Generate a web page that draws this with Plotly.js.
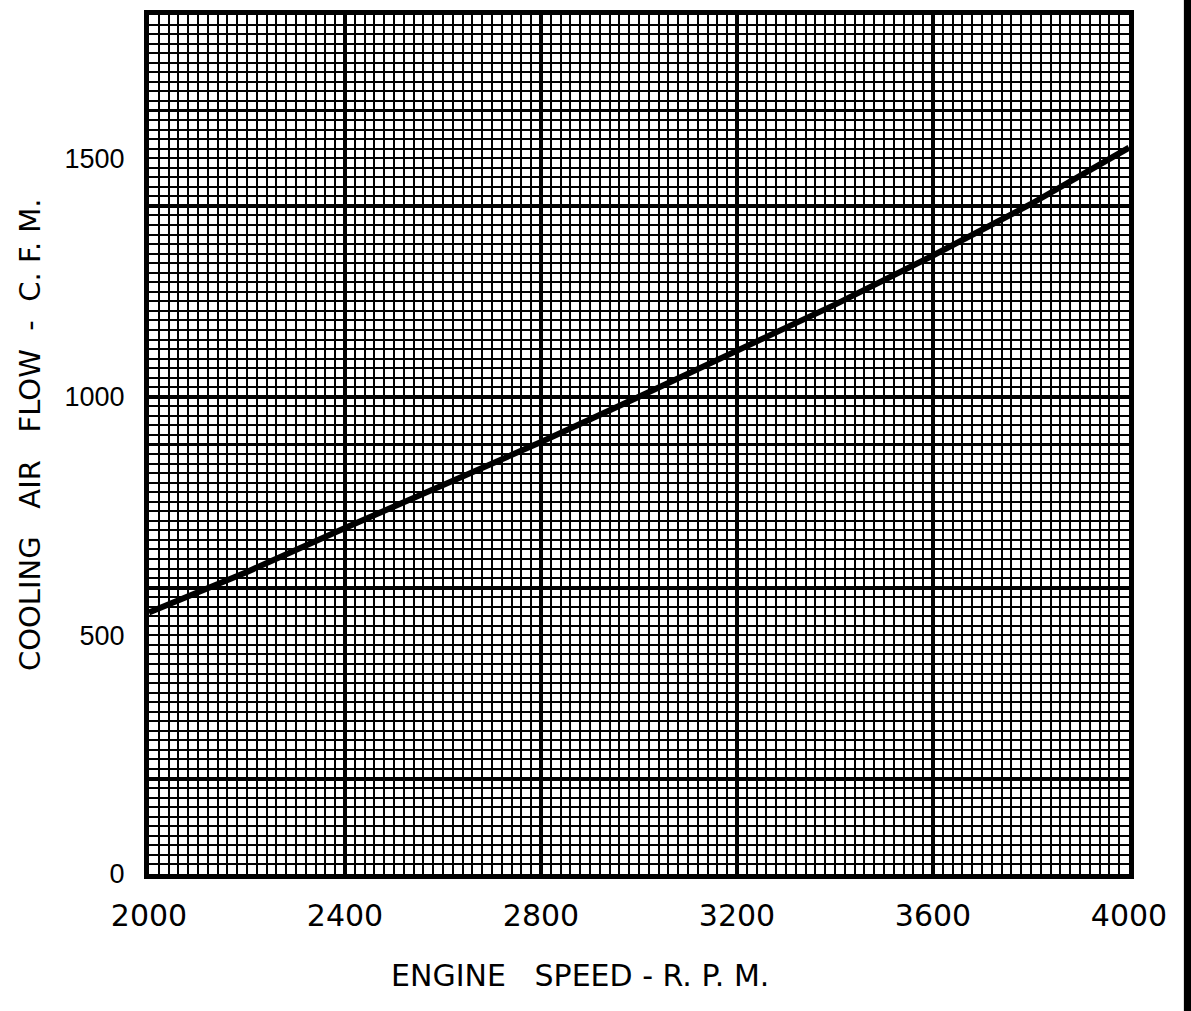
<!DOCTYPE html>
<html><head><meta charset="utf-8">
<script src="https://cdn.plot.ly/plotly-3.0.1.min.js"></script>
<style>html,body{margin:0;padding:0;background:#fff}#chart{width:1191px;height:1011px}</style>
</head><body><div id="chart"></div>
<script>
// Data
const engineSpeed = [2000, 2200, 2400, 2600, 2800, 3000, 3200, 3400, 3600, 3800, 4000];
const coolingAirFlow = [548, 633, 725, 815, 905, 1000, 1095, 1193, 1296, 1404, 1522];
const xTickVals = [2000, 2400, 2800, 3200, 3600, 4000];
const xTickText = ['2000', '2400', '2800', '3200', '3600', '4000'];
const yTickVals = [0, 500, 1000, 1500];
const yTickText = ['0', '500', '1000', '1500'];
const xTitleText = 'ENGINE\u00a0\u00a0\u00a0SPEED\u00a0-\u00a0R.\u00a0P.\u00a0M.';
const yTitleText = 'COOLING\u00a0\u00a0\u00a0AIR\u00a0\u00a0\u00a0FLOW\u00a0\u00a0-\u00a0\u00a0C.\u00a0F.\u00a0M.';

const ink = '#000';
const traces = [
  {x: engineSpeed, y: coolingAirFlow, xaxis: 'x', yaxis: 'y', mode: 'lines', opacity: 0, hoverinfo: 'skip', showlegend: false},
  {x: engineSpeed, y: coolingAirFlow, xaxis: 'x2', yaxis: 'y2', mode: 'lines', opacity: 0, hoverinfo: 'skip', showlegend: false},
  {x: engineSpeed, y: coolingAirFlow, xaxis: 'x', yaxis: 'y3', mode: 'lines',
   line: {color: ink, width: 6}, showlegend: false, name: 'Cooling air flow'}
];

const layout = {
  width: 1191, height: 1011,
  margin: {l: 149, r: 62, t: 15, b: 137},
  paper_bgcolor: '#fff', plot_bgcolor: '#fff',
  showlegend: false,
  xaxis: {
    range: [2000, 4000], tickmode: 'array', tickvals: xTickVals, ticktext: xTickText,
    showgrid: true, gridcolor: ink, gridwidth: 4, ticks: '', zeroline: false,
    showline: true, linecolor: ink, linewidth: 5, mirror: true,
    tickfont: {family: 'DejaVu Sans', size: 30, color: ink}, ticklabelstandoff: 11
  },
  xaxis2: {
    range: [2000, 4000], overlaying: 'x', anchor: 'y2', tickmode: 'linear', tick0: 2000, dtick: 100,
    showgrid: true, gridcolor: ink, gridwidth: 2.2, showticklabels: false, ticks: '', zeroline: false,
    minor: {tickmode: 'linear', tick0: 2000, dtick: 20, showgrid: true, gridcolor: ink, gridwidth: 2, ticks: ''}
  },
  yaxis: {
    range: [0, 1800], tickmode: 'array', tickvals: yTickVals, ticktext: yTickText,
    showgrid: false, ticks: '', zeroline: false,
    showline: true, linecolor: ink, linewidth: 5, mirror: true,
    tickfont: {family: 'Liberation Sans', size: 27, color: ink}, ticklabelstandoff: 14
  },
  yaxis2: {
    range: [0, 1800], overlaying: 'y', anchor: 'x2', tickmode: 'linear', tick0: 0, dtick: 100,
    showgrid: true, gridcolor: ink, gridwidth: 2.2, showticklabels: false, ticks: '', zeroline: false,
    minor: {tickmode: 'linear', tick0: 0, dtick: 20, showgrid: true, gridcolor: ink, gridwidth: 2, ticks: ''}
  },
  yaxis3: {
    range: [0, 1800], overlaying: 'y', anchor: 'x', tickmode: 'linear', tick0: 200, dtick: 400,
    showgrid: true, gridcolor: ink, gridwidth: 4, showticklabels: false, ticks: '', zeroline: false
  },
  annotations: [
    {text: xTitleText, xref: 'paper', yref: 'paper', x: 0.44, y: -0.1176, xanchor: 'center', yanchor: 'middle',
     showarrow: false, font: {family: 'DejaVu Sans', size: 30, color: ink}},
    {text: yTitleText, xref: 'paper', yref: 'paper', x: -0.1214, y: 0.511, xanchor: 'center', yanchor: 'middle',
     textangle: -90, showarrow: false, font: {family: 'DejaVu Sans', size: 29, color: ink}}
  ],
  shapes: [
    {type: 'rect', xref: 'paper', yref: 'paper', x0: 1.056, x1: 1.09, y0: -0.3, y1: 1.2,
     fillcolor: ink, line: {width: 0}, layer: 'above'}
  ]
};

Plotly.newPlot('chart', traces, layout, {displayModeBar: false, staticPlot: true});
</script>
</body></html>
